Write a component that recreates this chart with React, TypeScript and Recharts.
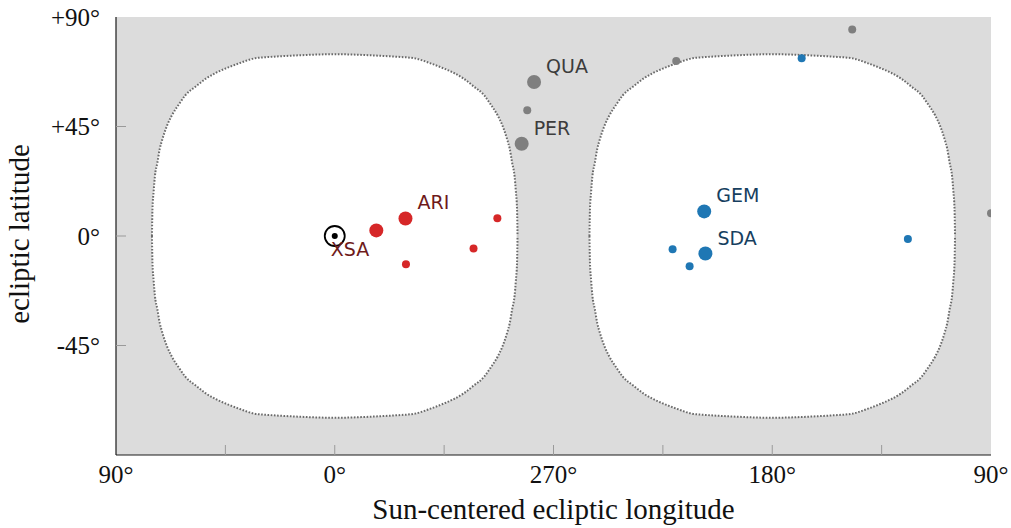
import { ComposedChart, XAxis, YAxis, Area, Scatter, CartesianGrid } from "recharts";

// Sun-centred ecliptic coordinates (degrees) of the radiants
const sunName = "XSA";
const sunLon = [0];
const sunLat = [0];

const redNames = ["", "ARI", "", "", ""];
const redLon = [342.9, 330.9, 293.1, 302.9, 330.7];
const redLat = [2.3, 7.2, 7.3, -5.1, -11.6];
const redMajor = [true, true, false, false, false];

const grayNames = ["QUA", "", "PER", "", "", ""];
const grayLon = [278.0, 280.8, 283.1, 219.5, 147.1, 90.0];
const grayLat = [63.3, 51.7, 37.9, 71.9, 84.9, 9.4];
const grayMajor = [true, false, true, false, false, false];

const blueNames = ["GEM", "SDA", "", "", "", ""];
const blueLon = [208.0, 207.5, 221.0, 214.0, 124.2, 167.9];
const blueLat = [10.1, -7.2, -5.4, -12.4, -1.2, 73.0];
const blueMajor = [true, true, false, false, false, false];

// outline of the two unobservable zones: half height at each offset from the zone centre
const zoneOffsets = [0, 16, 25, 33, 39, 45, 49, 53, 57, 61.5, 64, 67, 69, 71, 72, 73, 74, 74.5, 75, 75.2];
const zoneHalfHeights = [74.7, 74.2, 73.7, 73.0, 71.1, 68.8, 67.0, 64.7, 61.6, 57.8, 54.3, 49.6, 45.4, 39.5, 35.8, 30.0, 24.5, 18.5, 11.0, 0];
const zoneCenters = [0, 180];

const xTicks = [-90, -45, 0, 45, 90, 135, 180, 225, 270];
const yTicks = [-90, -45, 0, 45, 90];

const serif = "'Liberation Serif', 'Times New Roman', serif";
const sans = "'DejaVu Sans', sans-serif";

// longitude runs right-to-left, starting at 90 on the left edge
function toAxis(lon: number) {
    return lon >= 90 ? 360 - lon : -lon;
}

function xTickText(v: number) {
    if (v % 90 !== 0) return "";
    return ((-v % 360) + 360) % 360 + "°";
}

function yTickText(v: number) {
    if (v === -90) return "";
    return (v > 0 ? "+" : "") + v + "°";
}

function buildZone(center: number) {
    const rows = [];
    for (let i = zoneOffsets.length - 1; i > 0; i--) {
        rows.push({ x: center - zoneOffsets[i], band: [-zoneHalfHeights[i], zoneHalfHeights[i]] });
    }
    for (let i = 0; i < zoneOffsets.length; i++) {
        rows.push({ x: center + zoneOffsets[i], band: [-zoneHalfHeights[i], zoneHalfHeights[i]] });
    }
    return rows;
}

function buildPoints(names: string[], lon: number[], lat: number[], major: boolean[]) {
    return lon.map((l, i) => ({ x: toAxis(l), y: lat[i], name: names[i], major: major[i] }));
}

const sunPoints = sunLon.map((l, i) => ({ x: toAxis(l), y: sunLat[i], name: sunName }));
const redPoints = buildPoints(redNames, redLon, redLat, redMajor);
const grayPoints = buildPoints(grayNames, grayLon, grayLat, grayMajor);
const bluePoints = buildPoints(blueNames, blueLon, blueLat, blueMajor);

function radiantShape(fill: string, textFill: string) {
    return (props: any) => {
        const { cx, cy, payload } = props;
        return (
            <g>
                <circle cx={cx} cy={cy} r={payload.major ? 7 : 4} fill={fill} />
                {payload.name ? (
                    <text x={cx + 12} y={cy - 9} fill={textFill} fontSize={19} fontFamily={sans}>
                        {payload.name}
                    </text>
                ) : null}
            </g>
        );
    };
}

function sunShape(props: any) {
    const { cx, cy, payload } = props;
    return (
        <g>
            <circle cx={cx} cy={cy} r={10} fill="none" stroke="#000" strokeWidth={1.8} />
            <circle cx={cx} cy={cy} r={3} fill="#000" />
            <text x={cx - 4} y={cy + 20} fill="#6e1a1a" fontSize={19} fontFamily={sans}>
                {payload.name}
            </text>
        </g>
    );
}

const tickGray = "#9a9a9a";

function BottomTick(props: any) {
    const { x, y, payload } = props;
    const v = payload.value;
    const edge = v === -90 || v === 270;
    return (
        <g>
            {!edge && <line x1={x} x2={x} y1={y} y2={y - 10} stroke={tickGray} />}
            <text x={x} y={y + 28} textAnchor="middle" fontSize={25} fontFamily={serif} fill="#111">
                {xTickText(v)}
            </text>
        </g>
    );
}

function TopTick(props: any) {
    const { x, y, payload } = props;
    const v = payload.value;
    if (v === -90 || v === 270) return <g />;
    return <line x1={x} x2={x} y1={y} y2={y + 10} stroke={tickGray} />;
}

function LeftTick(props: any) {
    const { x, y, payload } = props;
    const v = payload.value;
    const edge = v === -90 || v === 90;
    return (
        <g>
            {!edge && <line x1={x} x2={x + 10} y1={y} y2={y} stroke={tickGray} />}
            <text x={x - 16} y={y} dy="0.35em" textAnchor="end" fontSize={25} fontFamily={serif} fill="#111">
                {yTickText(v)}
            </text>
        </g>
    );
}

function RightTick(props: any) {
    const { x, y, payload } = props;
    const v = payload.value;
    if (v === -90 || v === 90) return <g />;
    return <line x1={x} x2={x - 10} y1={y} y2={y} stroke={tickGray} />;
}

function xTitle(props: any) {
    const vb = props.viewBox;
    return (
        <text x={vb.x + vb.width / 2} y={vb.y + 64} textAnchor="middle" fontSize={29} fontFamily={serif} fill="#111">
            Sun-centered ecliptic longitude
        </text>
    );
}

function yTitle(props: any) {
    const vb = props.viewBox;
    const cx = 28.5;
    const cy = vb.y + vb.height / 2 - 2;
    return (
        <text x={cx} y={cy} transform={`rotate(-90 ${cx} ${cy})`} textAnchor="middle" fontSize={29} fontFamily={serif} fill="#111">
            ecliptic latitude
        </text>
    );
}

const frame = { stroke: "#1a1a1a", strokeWidth: 1.2 };

export default function App() {
    return (
        <div style={{ width: 1011, height: 528 }}>
            <style>{"body { margin: 0; }"}</style>
            <ComposedChart width={1011} height={528} margin={{ top: 17, right: 20, bottom: 8, left: 0 }}>
                <CartesianGrid fill="#dcdcdc" stroke="none" horizontal={false} vertical={false} />
                <XAxis
                    dataKey="x"
                    type="number"
                    domain={[-90, 270]}
                    ticks={xTicks}
                    interval={0}
                    allowDataOverflow
                    height={65}
                    axisLine={frame}
                    tickLine={false}
                    tickSize={0}
                    tickMargin={0}
                    tick={BottomTick}
                    label={xTitle}
                />
                <XAxis
                    xAxisId="top"
                    orientation="top"
                    type="number"
                    domain={[-90, 270]}
                    ticks={xTicks}
                    interval={0}
                    allowDataOverflow
                    height={0}
                    axisLine={frame}
                    tickLine={false}
                    tickSize={0}
                    tickMargin={0}
                    tick={TopTick}
                />
                <YAxis
                    dataKey="y"
                    type="number"
                    domain={[-90, 90]}
                    ticks={yTicks}
                    interval={0}
                    allowDataOverflow
                    width={116}
                    axisLine={frame}
                    tickLine={false}
                    tickSize={0}
                    tickMargin={0}
                    tick={LeftTick}
                    label={yTitle}
                />
                <YAxis
                    yAxisId="right"
                    orientation="right"
                    type="number"
                    domain={[-90, 90]}
                    ticks={yTicks}
                    interval={0}
                    allowDataOverflow
                    width={0}
                    axisLine={frame}
                    tickLine={false}
                    tickSize={0}
                    tickMargin={0}
                    tick={RightTick}
                />
                {zoneCenters.map((c) => (
                    <Area
                        key={c}
                        data={buildZone(c)}
                        dataKey="band"
                        type="monotone"
                        fill="#ffffff"
                        fillOpacity={1}
                        stroke="#6a6a6a"
                        strokeWidth={2}
                        strokeDasharray="1.6 1.6"
                        dot={false}
                        activeDot={false}
                        isAnimationActive={false}
                    />
                ))}
                <Scatter data={grayPoints} shape={radiantShape("#7f7f7f", "#3c3c3c")} isAnimationActive={false} />
                <Scatter data={redPoints} shape={radiantShape("#d62728", "#6e1a1a")} isAnimationActive={false} />
                <Scatter data={bluePoints} shape={radiantShape("#1f77b4", "#173f5f")} isAnimationActive={false} />
                <Scatter data={sunPoints} shape={sunShape} isAnimationActive={false} />
            </ComposedChart>
        </div>
    );
}
